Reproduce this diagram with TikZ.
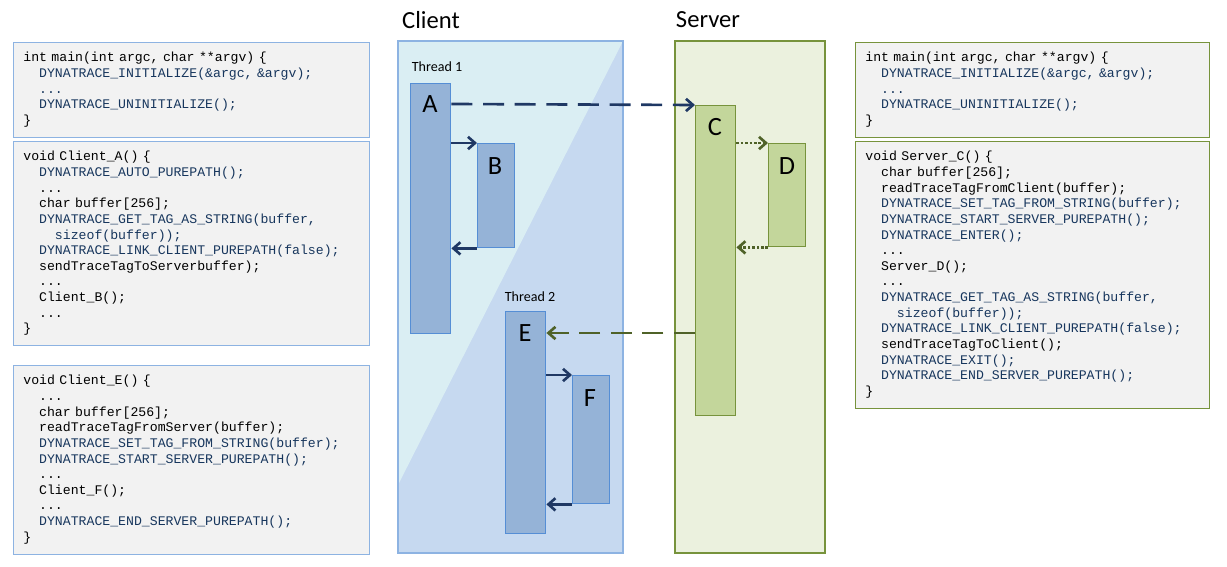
\documentclass[tikz,border=0pt]{standalone}
\usepackage{fontspec}
\setmainfont{Carlito}
\setmonofont{Liberation Mono}
\usetikzlibrary{arrows.meta, positioning}
\definecolor{clientbg}{HTML}{C6D9F0}
\definecolor{clientlt}{HTML}{DAEEF3}
\definecolor{clientln}{HTML}{8DB3E2}
\definecolor{barfill}{HTML}{95B3D7}
\definecolor{barline}{HTML}{558ED5}
\definecolor{serverbg}{HTML}{EBF1DE}
\definecolor{serverln}{HTML}{77933C}
\definecolor{srvbar}{HTML}{C3D69B}
\definecolor{navy}{HTML}{1F3864}
\definecolor{olive}{HTML}{4F6228}
\definecolor{codebg}{HTML}{F2F2F2}
\definecolor{macro}{HTML}{17365D}
\newcommand{\ind}{\hspace*{1.2em}}
\newcommand{\mc}[1]{\textcolor{macro}{#1}}
\begin{document}
\begin{tikzpicture}[x=0.02cm, y=-0.02cm,
  code/.style={draw, fill=codebg, anchor=north west, align=left, inner xsep=0.2cm, inner ysep=0.2cm,
    font=\fontsize{7.5}{8.9}\selectfont\ttfamily, text width=6.72cm},
  cbar/.style={draw=barline, fill=barfill, line width=0.8pt, anchor=north west, font=\fontsize{15}{15}\selectfont, text depth=0pt},
  sbar/.style={draw=serverln, fill=srvbar, line width=0.8pt, anchor=north west, font=\fontsize{15}{15}\selectfont, text depth=0pt},
  call/.style={-{Straight Barb[length=4pt,width=7pt]}, line width=1.5pt},
  title/.style={font=\fontsize{14}{14}\selectfont},
  thread/.style={font=\fontsize{8}{8}\selectfont},
]
\useasboundingbox (0,0) rectangle (1227,567);

% Panels
\fill[clientbg] (398,41) rectangle (623,553);
\fill[clientlt] (398,41) -- (623,41) -- (398,485) -- cycle;
\draw[clientln, line width=1.2pt] (398,41) rectangle (623,553);
\draw[serverln, line width=0.9pt, fill=serverbg] (675,41) rectangle (825,553);
\node[title] (client) at (431,20) {Client};
\node[title] (server) at (708,20) {Server};
\node[thread] (t1) at (437,67) {Thread 1};
\node[thread] (t2) at (530,297) {Thread 2};

% Bars
\node[cbar, minimum width=0.8cm, minimum height=5cm, inner sep=0pt, anchor=north west] (A) at (410,83) {};
\node at (430,104) {\fontsize{15}{15}\selectfont A};
\node[cbar, minimum width=0.74cm, minimum height=2.08cm, inner sep=0pt] (B) at (477,143) {};
\node at (495,166) {\fontsize{15}{15}\selectfont B};
\node[cbar, minimum width=0.8cm, minimum height=4.44cm, inner sep=0pt] (E) at (505,311) {};
\node at (525,333) {\fontsize{15}{15}\selectfont E};
\node[cbar, minimum width=0.74cm, minimum height=2.56cm, inner sep=0pt] (F) at (572,375) {};
\node at (590,398) {\fontsize{15}{15}\selectfont F};
\node[sbar, minimum width=0.8cm, minimum height=6.2cm, inner sep=0pt] (C) at (695,105) {};
\node at (715,127) {\fontsize{15}{15}\selectfont C};
\node[sbar, minimum width=0.74cm, minimum height=2.06cm, inner sep=0pt] (D) at (768,143) {};
\node at (787,166) {\fontsize{15}{15}\selectfont D};

% Calls
\draw[call, navy, dash pattern=on 12pt off 6pt] (A.north east |- 0,104) -- (C.north west);
\draw[call, navy] (A.east |- B.north) -- (B.north west);
\draw[call, navy] (B.south west) -- (A.east |- B.south);
\draw[call, olive, densely dotted] (C.east |- D.north) -- (D.north west);
\draw[call, olive, densely dotted] (D.south west) -- (C.east |- D.south);
\draw[call, olive, dash pattern=on 12pt off 6pt] (C.west |- 0,333) -- (E.east |- 0,333);
\draw[call, navy] (E.east |- F.north) -- (F.north west);
\draw[call, navy] (F.south west) -- (E.east |- F.south);

% Client code
\node[code, draw=clientln, minimum height=1.8cm] (mainc) at (13,42) {%
int main(int argc, char **argv) \{\\
\ind\mc{DYNATRACE\_INITIALIZE(\&argc, \&argv);}\\
\ind\mc{...}\\
\ind\mc{DYNATRACE\_UNINITIALIZE();}\\
\}};
\node[code, draw=clientln, minimum height=4.02cm] (clienta) at (13,141) {%
void Client\_A() \{\\
\ind\mc{DYNATRACE\_AUTO\_PUREPATH();}\\
\ind...\\
\ind char buffer[256];\\
\ind\mc{DYNATRACE\_GET\_TAG\_AS\_STRING(buffer,}\\
\ind\ind\mc{sizeof(buffer));}\\
\ind\mc{DYNATRACE\_LINK\_CLIENT\_PUREPATH(false);}\\
\ind sendTraceTagToServerbuffer);\\
\ind...\\
\ind Client\_B();\\
\ind...\\
\}};
\node[code, draw=clientln, minimum height=3.74cm] (cliente) at (13,365) {%
void Client\_E() \{\\
\ind...\\
\ind char buffer[256];\\
\ind readTraceTagFromServer(buffer);\\
\ind\mc{DYNATRACE\_SET\_TAG\_FROM\_STRING(buffer);}\\
\ind\mc{DYNATRACE\_START\_SERVER\_PUREPATH();}\\
\ind...\\
\ind Client\_F();\\
\ind...\\
\ind\mc{DYNATRACE\_END\_SERVER\_PUREPATH();}\\
\}};

% Server code
\node[code, draw=serverln, minimum height=1.8cm, text width=6.68cm] (mains) at (855,42) {%
int main(int argc, char **argv) \{\\
\ind\mc{DYNATRACE\_INITIALIZE(\&argc, \&argv);}\\
\ind\mc{...}\\
\ind\mc{DYNATRACE\_UNINITIALIZE();}\\
\}};
\node[code, draw=serverln, minimum height=5.32cm, text width=6.68cm] (serverc) at (855,141) {%
void Server\_C() \{\\
\ind char buffer[256];\\
\ind readTraceTagFromClient(buffer);\\
\ind\mc{DYNATRACE\_SET\_TAG\_FROM\_STRING(buffer);}\\
\ind\mc{DYNATRACE\_START\_SERVER\_PUREPATH();}\\
\ind\mc{DYNATRACE\_ENTER();}\\
\ind...\\
\ind Server\_D();\\
\ind...\\
\ind\mc{DYNATRACE\_GET\_TAG\_AS\_STRING(buffer,}\\
\ind\ind\mc{sizeof(buffer));}\\
\ind\mc{DYNATRACE\_LINK\_CLIENT\_PUREPATH(false);}\\
\ind sendTraceTagToClient();\\
\ind\mc{DYNATRACE\_EXIT();}\\
\ind\mc{DYNATRACE\_END\_SERVER\_PUREPATH();}\\
\}};
\end{tikzpicture}
\end{document}
